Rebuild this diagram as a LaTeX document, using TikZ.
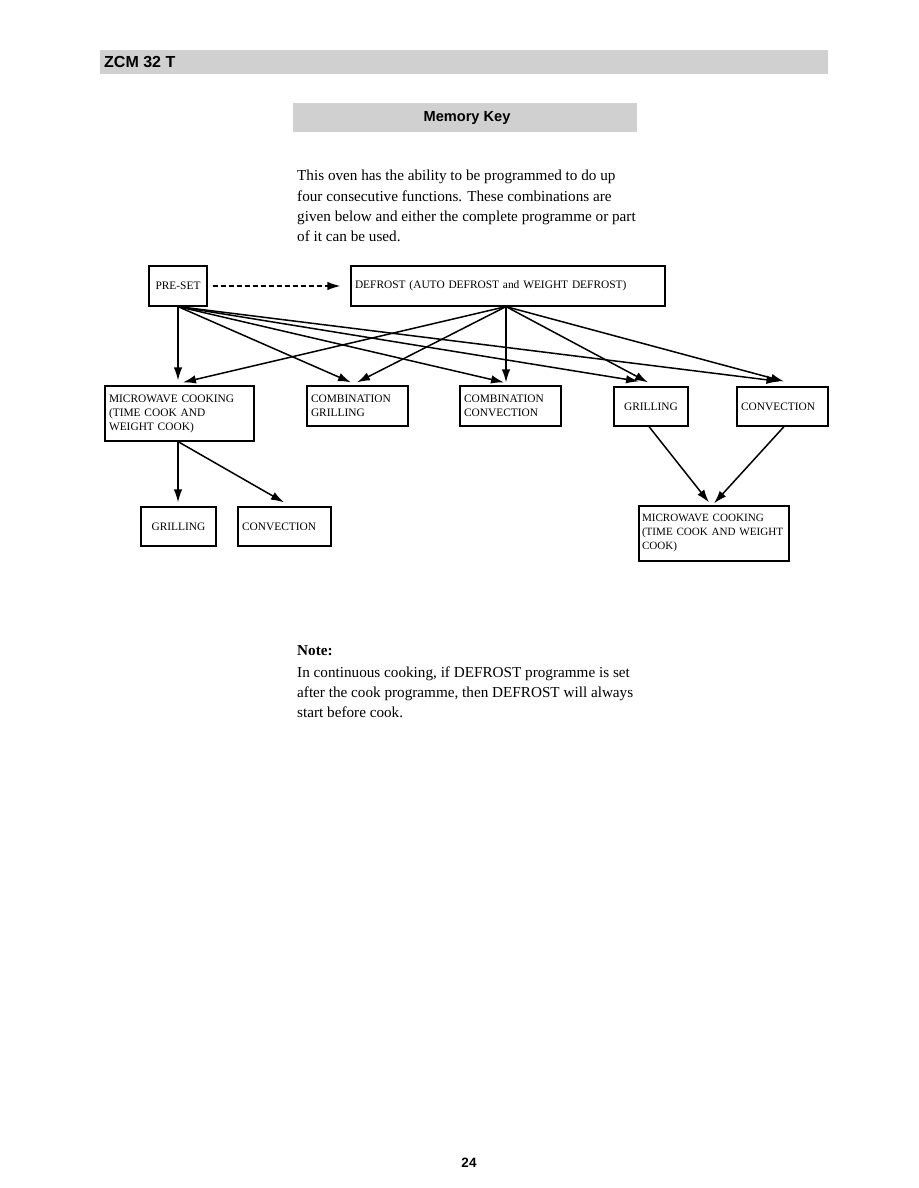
\documentclass[tikz,border=0pt]{standalone}
\usepackage{fontspec}
\setmainfont{Liberation Serif}
\newfontfamily\hdrfont{Liberation Sans}
\usetikzlibrary{arrows.meta,calc}
\definecolor{bandgray}{RGB}{208,208,208}
\tikzset{
  boxnode/.style={draw, line width=1.2pt, inner xsep=4pt, inner ysep=0pt,
    align=left, font=\fontsize{11.4}{14}\selectfont},
  arr/.style={-{Latex[length=13pt,width=8.5pt]}, line width=1.5pt},
  bodyline/.style={anchor=base west, inner sep=0pt, font=\fontsize{15.2}{20}\selectfont},
}
\begin{document}
\begin{tikzpicture}[x=1pt,y=-1pt]
\useasboundingbox (0,0) rectangle (918,1188);
\fill[white] (0,0) rectangle (918,1188);
% header band
\fill[bandgray] (100,50) rectangle (828,74);
\node[anchor=west, inner sep=0pt, font=\hdrfont\bfseries\fontsize{16}{18}\selectfont] (hdr) at (104,62.5) {ZCM 32 T};
% memory key band
\fill[bandgray] (293,103) rectangle (637,132);
\node[inner sep=0pt, font=\hdrfont\bfseries\fontsize{14.6}{17}\selectfont] (mk) at (467,117.5) {Memory Key};
% paragraph
\node[bodyline] (p1) at (297,180.5) {This oven has the ability to be programmed to do up};
\node[bodyline] (p2) at (297,201) {four consecutive functions. These combinations are};
\node[bodyline] (p3) at (297,221) {given below and either the complete programme or part};
\node[bodyline] (p4) at (297,241) {of it can be used.};
% boxes
\node[boxnode, align=center, minimum width=58pt, minimum height=40pt, text width=50pt] (preset) at (178,286) {PRE-SET};
\node[boxnode, minimum width=314pt, minimum height=40pt, text width=306pt] (defrost) at (508,286) {DEFROST (AUTO DEFROST and WEIGHT DEFROST)};
\node[boxnode, minimum width=149pt, minimum height=55pt, text width=141pt] (mw) at (179.5,413.5) {MICROWAVE COOKING\\(TIME COOK AND\\WEIGHT COOK)};
\node[boxnode, minimum width=101pt, minimum height=40pt, text width=93pt] (cg) at (357.5,406) {COMBINATION\\GRILLING};
\node[boxnode, minimum width=101pt, minimum height=40pt, text width=93pt] (cc) at (510.5,406) {COMBINATION\\CONVECTION};
\node[boxnode, align=center, minimum width=74pt, minimum height=39pt, text width=66pt] (gr) at (651,406.5) {GRILLING};
\node[boxnode, minimum width=91pt, minimum height=39pt, text width=83pt] (cv) at (782.5,406.5) {CONVECTION};
\node[boxnode, align=center, minimum width=75pt, minimum height=39pt, text width=67pt] (gr2) at (178.5,526.5) {GRILLING};
\node[boxnode, minimum width=93pt, minimum height=39pt, text width=85pt] (cv2) at (284.5,526.5) {CONVECTION};
\node[boxnode, inner xsep=3pt, font=\fontsize{11.1}{14}\selectfont, minimum width=150pt, minimum height=55pt, text width=144pt] (mw2) at (714,533.5) {MICROWAVE COOKING\\\mbox{(TIME COOK AND WEIGHT}\\COOK)};
% dashed arrow
\draw[arr, dash pattern=on 5pt off 3pt] ([xshift=5pt]preset.east) -- ([xshift=-10pt]defrost.west);
% from PRE-SET
\draw[arr] (preset.south) -- ([xshift=-1.5pt,yshift=5pt]mw.north);
\draw[arr] (preset.south) -- ([xshift=-6.5pt,yshift=3pt]cg.north);
\draw[arr] (preset.south) -- ([xshift=-6.5pt,yshift=3pt]cc.north);
\draw[arr] (preset.south) -- ([xshift=-12pt,yshift=5pt]gr.north);
\draw[arr] (preset.south) -- ([xshift=-3pt,yshift=5pt]cv.north);
% from DEFROST
\draw[arr] ([xshift=-2pt]defrost.south) -- ([xshift=3.5pt,yshift=3pt]mw.north);
\draw[arr] ([xshift=-2pt]defrost.south) -- ([xshift=-0.5pt,yshift=3pt]cg.north);
\draw[arr] ([xshift=-2pt]defrost.south) -- ([xshift=-4.5pt,yshift=3pt]cc.north);
\draw[arr] ([xshift=-2pt]defrost.south) -- ([xshift=-3pt,yshift=4pt]gr.north);
\draw[arr] ([xshift=-2pt]defrost.south) -- ([xshift=1.5pt,yshift=5pt]cv.north);
% lower left
\draw[arr] ([xshift=-1.5pt]mw.south) -- ([xshift=-0.5pt,yshift=4pt]gr2.north);
\draw[arr] ([xshift=-1.5pt]mw.south) -- ([xshift=-0.5pt,yshift=4pt]cv2.north);
% lower right
\draw[arr] ([xshift=-2pt]gr.south) -- ([xshift=-5pt,yshift=3pt]mw2.north);
\draw[arr] ([xshift=1.5pt]cv.south) -- ([xshift=0pt,yshift=2pt]mw2.north);
% note
\node[bodyline, font=\bfseries\fontsize{15.2}{20}\selectfont] (n0) at (297,655) {Note:};
\node[bodyline] (n1) at (297,677) {In continuous cooking, if DEFROST programme is set};
\node[bodyline] (n2) at (297,697) {after the cook programme, then DEFROST will always};
\node[bodyline] (n3) at (297,717) {start before cook.};
% page number
\node[inner sep=0pt, font=\hdrfont\bfseries\fontsize{13.5}{16}\selectfont] (pg) at (469,1163) {24};
\end{tikzpicture}
\end{document}
